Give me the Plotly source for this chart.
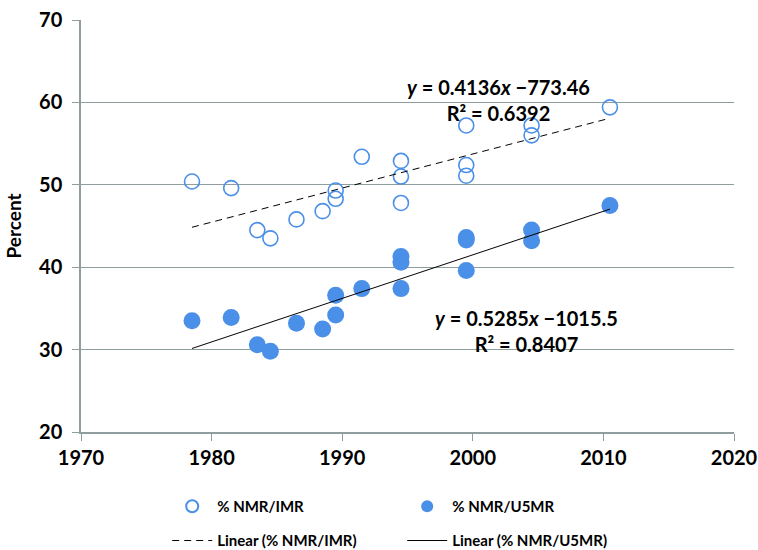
import plotly.graph_objects as go

# Survey mid-years and neonatal share of mortality (%)
imr_years = [1978.5, 1981.5, 1983.5, 1984.5, 1986.5, 1988.5, 1989.5, 1989.5, 1991.5,
             1994.5, 1994.5, 1994.5, 1999.5, 1999.5, 1999.5, 2004.5, 2004.5, 2010.5]
nmr_imr = [50.4, 49.6, 44.5, 43.5, 45.8, 46.8, 49.3, 48.3, 53.4,
           52.9, 51.0, 47.8, 57.2, 52.4, 51.1, 57.2, 56.0, 59.4]

u5mr_years = [1978.5, 1981.5, 1983.5, 1984.5, 1986.5, 1988.5, 1989.5, 1989.5, 1991.5,
              1994.5, 1994.5, 1994.5, 1999.5, 1999.5, 1999.5, 2004.5, 2004.5, 2010.5]
nmr_u5mr = [33.5, 33.9, 30.6, 29.8, 33.2, 32.5, 36.6, 34.2, 37.4,
            41.3, 40.6, 37.4, 43.6, 43.3, 39.6, 44.5, 43.2, 47.5]

# Fitted linear trends (slope, intercept, R²)
imr_fit = (0.4136, -773.46, 0.6392)
u5mr_fit = (0.5285, -1015.5, 0.8407)

x_ticks = [1970, 1980, 1990, 2000, 2010, 2020]
y_ticks = [20, 30, 40, 50, 60, 70]

BLUE = "#4a8fe8"
GRID = "#8e9e9e"
FONT = "Lato"


def trend(fit, years):
    x0, x1 = min(years), max(years)
    return [x0, x1], [fit[0] * x0 + fit[1], fit[0] * x1 + fit[1]]


fig = go.Figure()

fig.add_trace(go.Scatter(
    x=imr_years, y=nmr_imr, mode="markers", name="% NMR/IMR",
    marker=dict(symbol="circle-open", size=15, color=BLUE, line=dict(width=1.6, color=BLUE)),
    legend="legend",
))
fig.add_trace(go.Scatter(
    x=u5mr_years, y=nmr_u5mr, mode="markers", name="% NMR/U5MR",
    marker=dict(symbol="circle", size=17, color=BLUE),
    legend="legend",
))

tx, ty = trend(imr_fit, imr_years)
fig.add_trace(go.Scatter(
    x=tx, y=ty, mode="lines", name="Linear (% NMR/IMR)",
    line=dict(color="black", width=1, dash="7px,5px"),
    legend="legend2",
))
tx, ty = trend(u5mr_fit, u5mr_years)
fig.add_trace(go.Scatter(
    x=tx, y=ty, mode="lines", name="Linear (% NMR/U5MR)",
    line=dict(color="black", width=1),
    legend="legend2",
))


def eq_text(fit):
    return (f"<i>y</i> = {fit[0]}<i>x</i> \u2212{abs(fit[1])}"
            f"<br>R\u00b2 = {fit[2]:.4f}")


fig.add_annotation(x=2002.0, y=60.3, xref="x", yref="y", text=eq_text(imr_fit),
                   showarrow=False, align="center",
                   font=dict(family=FONT, size=20, color="black", weight="bold"))
fig.add_annotation(x=2004.1, y=32.3, xref="x", yref="y", text=eq_text(u5mr_fit),
                   showarrow=False, align="center",
                   font=dict(family=FONT, size=20, color="black", weight="bold"))

legend_common = dict(
    orientation="h", xanchor="left", yanchor="middle",
    entrywidth=180, entrywidthmode="pixels",
    font=dict(family=FONT, size=15, color="black", weight="bold"),
    bgcolor="rgba(0,0,0,0)", itemwidth=40,
)

fig.update_layout(
    width=758, height=550,
    margin=dict(l=81, r=24, t=20, b=118, autoexpand=False),
    paper_bgcolor="white", plot_bgcolor="white",
    font=dict(family=FONT, color="black"),
    showlegend=True,
    legend=dict(x=0.132, y=-0.181, itemsizing="constant", **legend_common),
    legend2=dict(x=0.132, y=-0.264, itemsizing="trace", **legend_common),
    xaxis=dict(
        range=[1970, 2020], tickvals=x_ticks, ticks="outside", ticklen=7,
        tickcolor=GRID, showline=True, linecolor=GRID, linewidth=1.5,
        showgrid=False, zeroline=False,
        tickfont=dict(family=FONT, size=20, color="black", weight="bold"),
    ),
    yaxis=dict(
        range=[20, 70], tickvals=y_ticks, ticks="outside", ticklen=7,
        tickcolor=GRID, showline=True, linecolor=GRID, linewidth=1.5,
        showgrid=True, gridcolor=GRID, gridwidth=1.3, zeroline=False,
        ticklabelstandoff=6,
        tickfont=dict(family=FONT, size=20, color="black", weight="bold"),
        title=dict(text="Percent", standoff=12,
                   font=dict(family=FONT, size=19, color="black", weight="bold")),
    ),
)

fig.write_html("out.html")
